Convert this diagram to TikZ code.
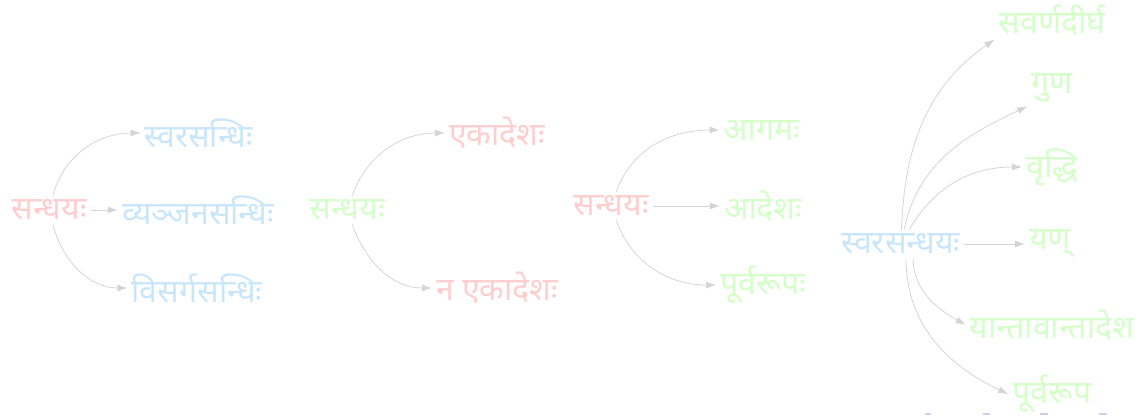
\documentclass[tikz,border=0pt]{standalone}
\usepackage{fontspec}
\usetikzlibrary{arrows.meta}
\newfontfamily\deva[Script=Devanagari]{Noto Sans}
\definecolor{rosa}{RGB}{255,205,205}
\definecolor{hellblau}{RGB}{200,230,250}
\definecolor{hellgruen}{RGB}{212,255,200}
\definecolor{pfeil}{RGB}{212,212,212}
\definecolor{navi}{RGB}{205,205,240}

\begin{document}
\begin{tikzpicture}[x=1pt, y=-1pt, >={Latex[length=10pt,width=7pt]},
    word/.style={font=\deva\fontsize{32}{36}\selectfont, inner sep=4pt},
    link/.style={->, draw=pfeil, line width=0.8pt}]
    \useasboundingbox (0,0) rectangle (1145,415);
    % first tree
    \node[word, text=rosa] (sa) at (49,210) {सन्धयः};
    \node[word, text=hellblau] (svara) at (199,133) {स्वरसन्धिः};
    \node[word, text=hellblau] (vyanjana) at (198,210) {व्यञ्जनसन्धिः};
    \node[word, text=hellblau] (visarga) at (197,288) {विसर्गसन्धिः};
    \draw[link] (sa) to[out=75, in=180] (svara);
    \draw[link] (sa) -- (vyanjana);
    \draw[link] (sa) to[out=-75, in=180] (visarga);
    % second tree
    \node[word, text=hellgruen] (sb) at (347,210) {सन्धयः};
    \node[word, text=rosa] (eka) at (497,133) {एकादेशः};
    \node[word, text=rosa] (naeka) at (497,288) {न एकादेशः};
    \draw[link] (sb) to[out=70, in=180] (eka);
    \draw[link] (sb) to[out=-70, in=180] (naeka);
    % third tree
    \node[word, text=rosa] (sc) at (611,206) {सन्धयः};
    \node[word, text=hellgruen] (agama) at (762,130) {आगमः};
    \node[word, text=hellgruen] (adesha) at (763,206) {आदेशः};
    \node[word, text=hellgruen] (purva) at (763,285) {पूर्वरूपः};
    \draw[link] (sc) to[out=70, in=180] (agama);
    \draw[link] (sc) -- (adesha);
    \draw[link] (sc) to[out=-70, in=180] (purva);
    % fourth tree
    \node[word, text=hellblau] (sd) at (901,244) {स्वरसन्धयः};
    \node[word, text=hellgruen] (dirgha) at (1052,20) {सवर्णदीर्घ};
    \node[word, text=hellgruen] (guna) at (1052,88) {गुण};
    \node[word, text=hellgruen] (vrddhi) at (1052,167) {वृद्धि};
    \node[word, text=hellgruen] (yan) at (1050,244) {यण्};
    \node[word, text=hellgruen] (yanta) at (1052,325) {यान्तावान्तादेश};
    \node[word, text=hellgruen] (purvarupa) at (1052,394) {पूर्वरूप};
    \draw[link] (sd) to[out=88, in=215] (dirgha.south west);
    \draw[link] (sd) to[out=78, in=205] (guna.south west);
    \draw[link] (sd) to[out=60, in=180] (vrddhi.west);
    \draw[link] (sd) -- (yan);
    \draw[link] ([xshift=12pt]sd.south) to[out=-88, in=150] (yanta.west);
    \draw[link] ([xshift=5pt]sd.south) to[out=-90, in=155] (purvarupa.west);
    % navigation marks
    \fill[navi] (925,413) rectangle (931,415);
    \fill[navi] (983,413) rectangle (990,415);
    \fill[navi] (1040,413) rectangle (1048,415);
    \fill[navi] (1099,413) rectangle (1107,415);
\end{tikzpicture}
\end{document}
